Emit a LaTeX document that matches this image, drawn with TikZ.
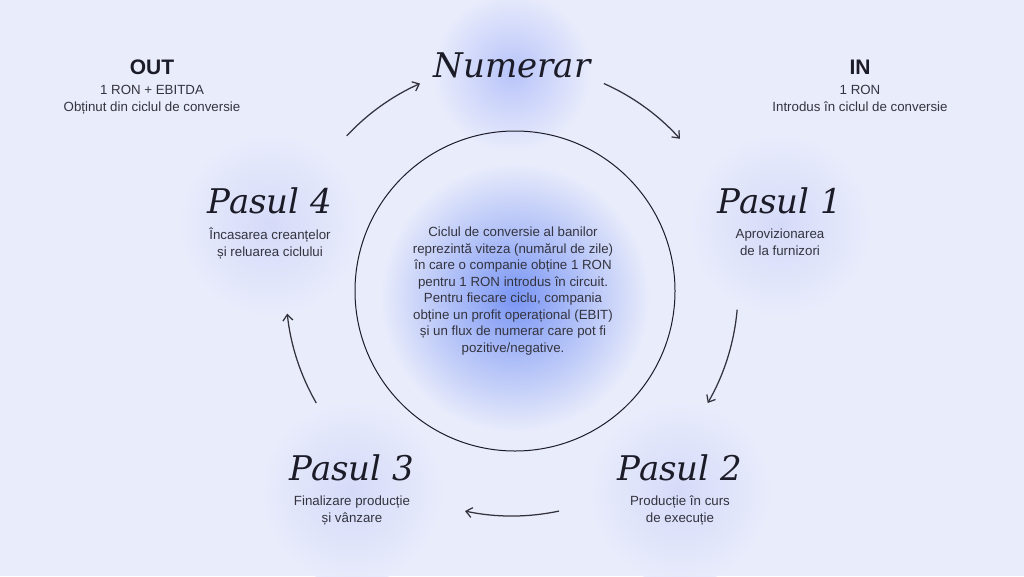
\documentclass[tikz,border=0pt]{standalone}
\usepackage{fontspec}
\usepackage{xcolor}
\usetikzlibrary{positioning,arrows.meta}
\setmainfont{Liberation Sans}
\newfontfamily\serifface{DejaVu Serif}
\definecolor{page-bg}{HTML}{E9ECFB}
\definecolor{ink}{HTML}{1C1C28}
\definecolor{body-ink}{HTML}{34343F}
\definecolor{core-glow}{HTML}{7A96F4}
\definecolor{top-glow}{HTML}{B8C4FA}
\definecolor{step-glow}{HTML}{D5DAF9}
\tikzset{
    step-title/.style = {inner sep=0pt, anchor=base, text=ink, font=\serifface\itshape\fontsize{34}{40}\selectfont},
    step-text/.style = {inner sep=0pt, anchor=north, align=center, text=body-ink, font=\fontsize{13.3}{16.5}\selectfont},
    flow-title/.style = {inner sep=0pt, anchor=base, text=ink, font=\bfseries\fontsize{21}{24}\selectfont},
    glow/.style = {inner color=#1, outer color=page-bg},
    cycle-arrow/.style = {draw=ink!90, line width=1.25pt, -{Straight Barb[length=6pt,width=10pt]}},
}

\begin{document}
\begin{tikzpicture}[x=1pt,y=1pt]
\fill[page-bg] (0,0) rectangle (1024,-576);
\useasboundingbox (0,0) rectangle (1024,-576);

% soft glows
\shade[glow=core-glow] (515,-298) circle (135);
\shade[glow=top-glow] (512,-72) circle (80);
\shade[glow=step-glow] (270,-225) circle (92);
\shade[glow=step-glow] (780,-225) circle (92);
\shade[glow=step-glow] (352,-492) circle (92);
\shade[glow=step-glow] (680,-492) circle (92);

% inner circle and text
\coordinate (hub) at (512,-290);
\draw[ink, line width=1pt] (515,-291) circle (160);
\node[step-text, anchor=center] (core) at (513,-291) {Ciclul de conversie al banilor\\
    reprezintă viteza (numărul de zile)\\
    în care o companie obține 1 RON\\
    pentru 1 RON introdus în circuit.\\
    Pentru fiecare ciclu, compania\\
    obține un profit operațional (EBIT)\\
    și un flux de numerar care pot fi\\
    pozitive/negative.};

% steps
\node[step-title] (numerar) at (512,-77) {Numerar};
\node[step-title] (pas1) at (780,-213) {Pasul 1};
\node[step-text, below=15pt of pas1] (pas1-text) {Aprovizionarea\\de la furnizori};
\node[step-title] (pas2) at (680,-480) {Pasul 2};
\node[step-text, below=15pt of pas2] (pas2-text) {Producție în curs\\de execuție};
\node[step-title] (pas3) at (352,-480) {Pasul 3};
\node[step-text, below=15pt of pas3] (pas3-text) {Finalizare producție\\și vânzare};
\node[step-title] (pas4) at (270,-213) {Pasul 4};
\node[step-text, below=14pt of pas4] (pas4-text) {Încasarea creanțelor\\și reluarea ciclului};

% in / out
\node[flow-title] (out) at (152,-74) {OUT};
\node[step-text, below=11pt of out] (out-text) {1 RON + EBITDA\\Obținut din ciclul de conversie};
\node[flow-title] (in) at (860,-74) {IN};
\node[step-text, below=11pt of in] (in-text) {1 RON\\Introdus în ciclul de conversie};

% cycle arrows
\foreach \from/\to [count=\i] in {66/42, -5/-30, -78/-102, 210/186, 137/114}{
    \coordinate (arc\i) at ([shift={(\from:226)}]hub);
    \draw[cycle-arrow] (arc\i) arc[start angle=\from, end angle=\to, radius=226];
}
\end{tikzpicture}
\end{document}
